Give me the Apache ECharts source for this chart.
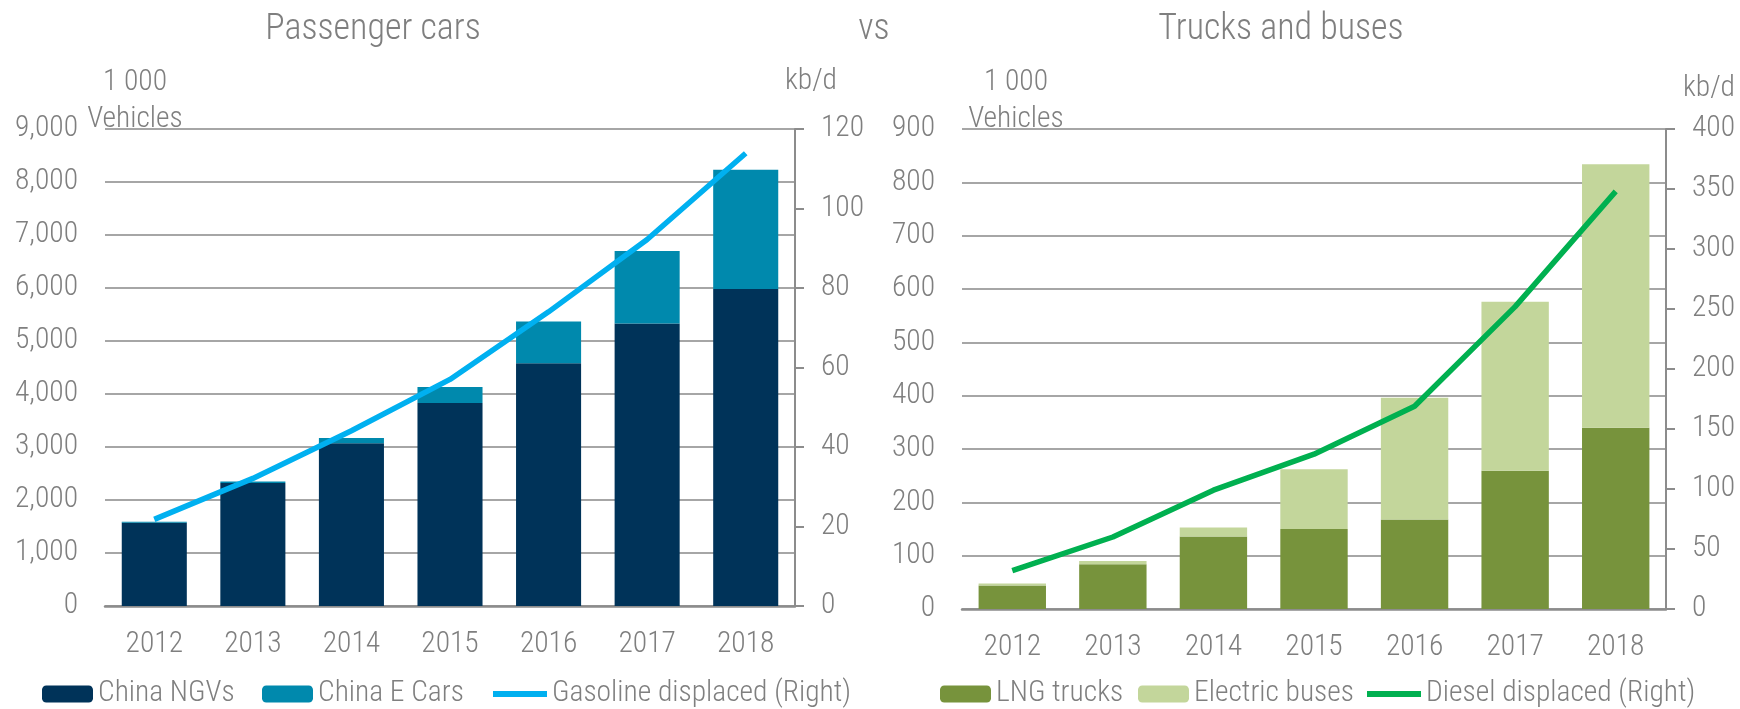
<!DOCTYPE html>
<html>
<head>
<meta charset="utf-8">
<script src="https://cdn.jsdelivr.net/npm/echarts@6/dist/echarts.min.js"></script>
<style>
  html, body { margin: 0; padding: 0; background: #fff; }
  #main { width: 1740px; height: 709px; }
</style>
</head>
<body>
<div id="main"></div>
<script>
// categories
const years = ['2012', '2013', '2014', '2015', '2016', '2017', '2018'];

// passenger cars (1 000 vehicles) and gasoline displaced (kb/d)
const chinaNGVs = [1570, 2320, 3070, 3830, 4580, 5330, 5980];
const chinaECars = [20, 30, 100, 300, 790, 1370, 2250];
const gasolineDisplaced = [21.8, 32.1, 44.1, 57.0, 74.0, 92.2, 113.9];

// trucks and buses (1 000 vehicles) and diesel displaced (kb/d)
const lngTrucks = [44, 84, 136, 150, 168, 259, 340];
const electricBuses = [4, 6, 17, 112, 228, 317, 494];
const dieselDisplaced = [32, 60, 99, 129, 169, 252, 348];

// axis ranges [min, max, interval]
const carsAxis = [0, 9000, 1000];
const gasolineAxis = [0, 120, 20];
const trucksAxis = [0, 900, 100];
const dieselAxis = [0, 400, 50];

const FONT = "'Roboto Condensed', 'DejaVu Sans Condensed', sans-serif";
const WEIGHT = 300;
const SIZE = 29.5;
const GREY = '#7f7f7f';

const myChart = echarts.init(document.getElementById('main'));

function leftAxis(gridIndex, range, nameOffset) {
  return {
    type: 'value', gridIndex: gridIndex,
    min: range[0], max: range[1], interval: range[2],
    position: 'left',
    name: '1 000\nVehicles', nameLocation: 'end', nameGap: -9,
    nameMoveOverlap: false,
    nameTextStyle: { color: GREY, fontFamily: FONT, fontWeight: WEIGHT, fontSize: SIZE, lineHeight: 37,
      align: 'center', verticalAlign: 'bottom', padding: [0, 0, 0, nameOffset * 2] },
    axisLine: { show: false }, axisTick: { show: false },
    axisLabel: { color: GREY, fontFamily: FONT, fontWeight: WEIGHT, fontSize: SIZE, margin: 27,
      formatter: v => v.toLocaleString('en-US') },
    splitLine: { lineStyle: { color: '#a6a6a6', width: 2 } }
  };
}

function rightAxis(gridIndex, range, nameGap, nameOffset) {
  return {
    type: 'value', gridIndex: gridIndex,
    min: range[0], max: range[1], interval: range[2],
    position: 'right',
    name: 'kb/d', nameLocation: 'end', nameGap: nameGap,
    nameMoveOverlap: false,
    nameTextStyle: { color: GREY, fontFamily: FONT, fontWeight: WEIGHT, fontSize: SIZE, lineHeight: 37,
      align: 'center', verticalAlign: 'bottom', padding: [0, 0, 0, nameOffset * 2] },
    axisLine: { show: true, lineStyle: { color: '#8c8c8c', width: 2 } },
    axisTick: { show: true, length: 9, lineStyle: { color: '#8c8c8c', width: 2 } },
    axisLabel: { color: GREY, fontFamily: FONT, fontWeight: WEIGHT, fontSize: SIZE, margin: 26 },
    splitLine: { show: false }
  };
}

function catAxis(gridIndex) {
  return {
    type: 'category', gridIndex: gridIndex, data: years,
    axisLine: { lineStyle: { color: '#8c8c8c', width: 2.5 } },
    axisTick: { show: false },
    axisLabel: { color: GREY, fontFamily: FONT, fontWeight: WEIGHT, fontSize: SIZE, margin: 24 }
  };
}

// one legend per entry so each sits where the original puts it
const legendItems = [
  ['China NGVs', 42, null],
  ['China E Cars', 262, null],
  ['Gasoline displaced (Right)', 493, 'path://M0,0H54V6H0Z'],
  ['LNG trucks', 940, null],
  ['Electric buses', 1138, null],
  ['Diesel displaced (Right)', 1367, 'path://M0,0H54V6H0Z']
];

const legends = legendItems.map(([name, left, icon]) => ({
  left: left, top: 678, itemWidth: icon ? 54 : 51, itemHeight: 17, padding: 0,
  textStyle: { color: GREY, fontFamily: FONT, fontWeight: WEIGHT, fontSize: SIZE, lineHeight: 32 },
  data: [icon ? { name: name, icon: icon } : name]
}));

const titleStyle = { fill: GREY, font: WEIGHT + ' 36px ' + FONT, align: 'center', verticalAlign: 'middle' };

myChart.setOption({
  animation: false,
  graphic: [
    { type: 'text', x: 373, y: 30, style: Object.assign({ text: 'Passenger cars' }, titleStyle) },
    { type: 'text', x: 874, y: 30, style: Object.assign({ text: 'vs' }, titleStyle) },
    { type: 'text', x: 1281, y: 30, style: Object.assign({ text: 'Trucks and buses' }, titleStyle) }
  ],
  grid: [
    { left: 105, right: 945, top: 129, bottom: 103 },
    { left: 962, right: 74, top: 129, bottom: 100 }
  ],
  legend: legends,
  xAxis: [catAxis(0), catAxis(1)],
  yAxis: [
    leftAxis(0, carsAxis, 30),
    rightAxis(0, gasolineAxis, 29, 16),
    leftAxis(1, trucksAxis, 54),
    rightAxis(1, dieselAxis, 22, 43)
  ],
  series: [
    { name: 'China NGVs', type: 'bar', stack: 'cars', xAxisIndex: 0, yAxisIndex: 0,
      barWidth: '66%', itemStyle: { color: '#003359' }, data: chinaNGVs },
    { name: 'China E Cars', type: 'bar', stack: 'cars', xAxisIndex: 0, yAxisIndex: 0,
      barWidth: '66%', itemStyle: { color: '#0089ad' }, data: chinaECars },
    { name: 'Gasoline displaced (Right)', type: 'line', xAxisIndex: 0, yAxisIndex: 1,
      symbol: 'none', lineStyle: { color: '#00b0f0', width: 5.5 },
      itemStyle: { color: '#00b0f0', borderWidth: 0 }, data: gasolineDisplaced },
    { name: 'LNG trucks', type: 'bar', stack: 'trucks', xAxisIndex: 1, yAxisIndex: 2,
      barWidth: '67%', itemStyle: { color: '#77933c' }, data: lngTrucks },
    { name: 'Electric buses', type: 'bar', stack: 'trucks', xAxisIndex: 1, yAxisIndex: 2,
      barWidth: '67%', itemStyle: { color: '#c3d69b' }, data: electricBuses },
    { name: 'Diesel displaced (Right)', type: 'line', xAxisIndex: 1, yAxisIndex: 3,
      symbol: 'none', lineStyle: { color: '#00b050', width: 5.5 },
      itemStyle: { color: '#00b050', borderWidth: 0 }, data: dieselDisplaced }
  ]
});
</script>
</body>
</html>
